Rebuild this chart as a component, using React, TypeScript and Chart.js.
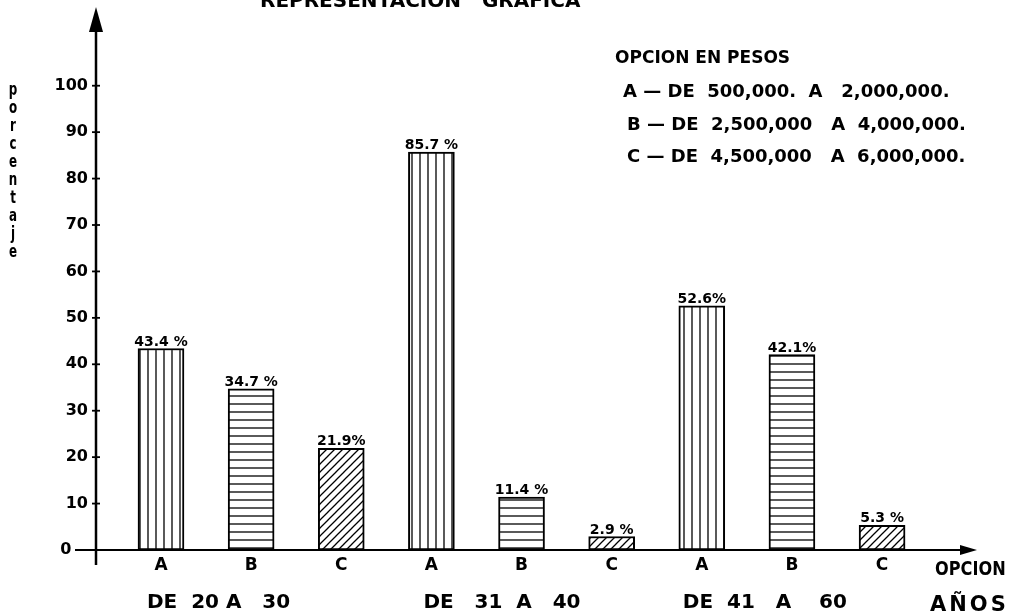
import React, { useEffect, useRef } from 'react';
import { Chart, registerables } from 'chart.js';

Chart.register(...registerables);

const categories = ['A', 'B', 'C', 'A', 'B', 'C', 'A', 'B', 'C'];
const values = [43.4, 34.7, 21.9, 85.7, 11.4, 2.9, 52.6, 42.1, 5.3];
const valueLabels = ['43.4 %', '34.7 %', '21.9%', '85.7 %', '11.4 %', '2.9 %', '52.6%', '42.1%', '5.3 %'];
const groupLabels = ['DE  20 A   30', 'DE   31  A   40', 'DE  41   A    60'];
const yTicks = [0, 10, 20, 30, 40, 50, 60, 70, 80, 90, 100];
const titleText = 'REPRESENTACION   GRAFICA';
const yTitle = 'porcentaje';
const legendTitle = 'OPCION EN PESOS';
const legendRows = [
  'A — DE  500,000.  A   2,000,000.',
  'B — DE  2,500,000   A  4,000,000.',
  'C — DE  4,500,000   A  6,000,000.',
];
const xTitle = 'OPCION';
const xTitle2 = 'AÑOS';

const FONT = "'DejaVu Sans', sans-serif";

function makePattern(ctx: CanvasRenderingContext2D, kind: string): CanvasPattern {
  const c = document.createElement('canvas');
  c.width = 8;
  c.height = 8;
  const g = c.getContext('2d')!;
  g.fillStyle = '#fff';
  g.fillRect(0, 0, 8, 8);
  g.strokeStyle = '#000';
  g.lineWidth = 1.3;
  g.beginPath();
  if (kind === 'v') {
    g.moveTo(4, 0);
    g.lineTo(4, 8);
  } else if (kind === 'h') {
    g.moveTo(0, 4);
    g.lineTo(8, 4);
  } else {
    g.moveTo(-2, 10);
    g.lineTo(10, -2);
    g.moveTo(-2, 2);
    g.lineTo(2, -2);
    g.moveTo(6, 10);
    g.lineTo(10, 6);
  }
  g.stroke();
  return ctx.createPattern(c, 'repeat')!;
}

const deco = {
  id: 'deco',
  afterDraw(chart: any) {
    const { ctx, scales } = chart;
    const x = scales.x;
    const y = scales.y;
    const x0 = x.left;
    const y0 = y.getPixelForValue(0);
    ctx.save();
    ctx.strokeStyle = '#000';
    ctx.fillStyle = '#000';
    ctx.lineCap = 'butt';

    // Y axis with arrow
    ctx.lineWidth = 2.5;
    ctx.beginPath();
    ctx.moveTo(x0, y0 + 15);
    ctx.lineTo(x0, 30);
    ctx.stroke();
    ctx.beginPath();
    ctx.moveTo(x0, 7);
    ctx.lineTo(x0 - 7, 32);
    ctx.lineTo(x0 + 7, 32);
    ctx.closePath();
    ctx.fill();

    // X axis with arrow
    ctx.lineWidth = 2;
    ctx.beginPath();
    ctx.moveTo(x0 - 21, y0);
    ctx.lineTo(x.right - 3, y0);
    ctx.stroke();
    ctx.beginPath();
    ctx.moveTo(x.right + 12, y0);
    ctx.lineTo(x.right - 5, y0 - 5);
    ctx.lineTo(x.right - 5, y0 + 5);
    ctx.closePath();
    ctx.fill();

    // Y tick crosses
    ctx.lineWidth = 1.8;
    y.ticks.forEach((t: any) => {
      if (t.value === 0) return;
      const py = y.getPixelForValue(t.value);
      ctx.beginPath();
      ctx.moveTo(x0 - 4, py);
      ctx.lineTo(x0 + 4, py);
      ctx.stroke();
    });

    // Bar value labels
    ctx.font = `bold 14px ${FONT}`;
    ctx.textAlign = 'center';
    ctx.textBaseline = 'alphabetic';
    const meta = chart.getDatasetMeta(0);
    meta.data.forEach((bar: any, i: number) => {
      ctx.fillText(valueLabels[i], bar.x, bar.y - 3);
    });

    // Title (cut off at top)
    ctx.textAlign = 'left';
    ctx.font = `bold 20px ${FONT}`;
    ctx.fillText(titleText, 260, 7);

    // Y title, stacked letters
    ctx.font = `bold 17px ${FONT}`;
    ctx.textAlign = 'center';
    yTitle.split('').forEach((ch, i) => {
      ctx.save();
      ctx.translate(13, 95 + i * 18);
      ctx.scale(0.7, 1);
      ctx.fillText(ch, 0, 0);
      ctx.restore();
    });

    // Legend block
    ctx.textAlign = 'left';
    ctx.font = `bold 17px ${FONT}`;
    ctx.fillText(legendTitle, 615, 63);
    ctx.font = `bold 18px ${FONT}`;
    ctx.fillText(legendRows[0], 623, 97);
    ctx.fillText(legendRows[1], 627, 130);
    ctx.fillText(legendRows[2], 627, 162);

    // Group labels
    ctx.font = `bold 20px ${FONT}`;
    const shifts = [-14, -8, -19];
    groupLabels.forEach((lab, g) => {
      const px = x.getPixelForValue(g * 3);
      ctx.fillText(lab, px + shifts[g], 608);
    });

    // X axis titles
    ctx.save();
    ctx.font = `bold 19px ${FONT}`;
    ctx.translate(935, 575);
    ctx.scale(0.85, 1);
    ctx.fillText(xTitle, 0, 0);
    ctx.restore();
    ctx.font = `bold 21px ${FONT}`;
    (ctx as any).letterSpacing = '3px';
    ctx.fillText(xTitle2, 930, 611);
    (ctx as any).letterSpacing = '0px';

    ctx.restore();
  },
};

export default function App() {
  const ref = useRef<HTMLCanvasElement>(null);
  useEffect(() => {
    const canvas = ref.current!;
    const ctx = canvas.getContext('2d')!;
    const pats: Record<string, CanvasPattern> = {
      A: makePattern(ctx, 'v'),
      B: makePattern(ctx, 'h'),
      C: makePattern(ctx, 'd'),
    };
    const chart = new Chart(canvas, {
      type: 'bar',
      data: {
        datasets: [
          {
            data: values.map((v, i) => ({ x: i, y: v })),
            backgroundColor: categories.map((c) => pats[c]),
            borderColor: '#000',
            borderWidth: 2,
            borderSkipped: false,
            barThickness: 46,
          },
        ],
      },
      options: {
        responsive: false,
        animation: false,
        layout: { padding: { top: 30, right: 47, left: 0, bottom: 0 } },
        plugins: { legend: { display: false }, tooltip: { enabled: false } },
        scales: {
          x: {
            type: 'linear',
            offset: false,
            min: -0.721,
            max: 8.92,
            grid: { display: false, drawTicks: false },
            border: { display: false },
            afterBuildTicks: (s: any) => {
              s.ticks = categories.map((_, i) => ({ value: i }));
            },
            afterFit: (s: any) => {
              s.height = 64;
            },
            ticks: {
              callback: (v: any) => categories[v] ?? '',
              font: { family: 'DejaVu Sans', weight: 'bold', size: 17 },
              color: '#000',
              padding: 5,
              autoSkip: false,
              maxRotation: 0,
            },
          },
          y: {
            min: 0,
            max: 112,
            grid: { display: false, drawTicks: false },
            border: { display: false },
            afterBuildTicks: (s: any) => {
              s.ticks = yTicks.map((v) => ({ value: v }));
            },
            afterFit: (s: any) => {
              s.width = 96;
            },
            ticks: {
              callback: (v: any) => (v === 0 ? '0   ' : String(v)),
              font: { family: 'DejaVu Sans', weight: 'bold', size: 16 },
              color: '#000',
              padding: 8,
            },
          },
        },
      } as any,
      plugins: [deco],
    });
    return () => chart.destroy();
  }, []);
  return (
    <div style={{ position: 'absolute', left: 0, top: 0, width: 1012, height: 614, background: '#fff' }}>
      <canvas ref={ref} width={1012} height={614} style={{ display: 'block' }} />
    </div>
  );
}
